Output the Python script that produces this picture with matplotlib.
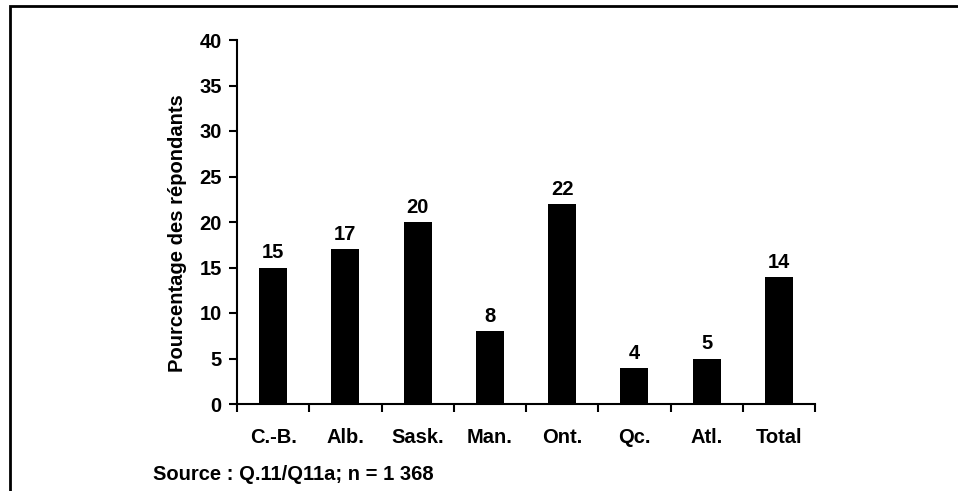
import numpy as np
import matplotlib.pyplot as plt
from matplotlib.patches import Rectangle

plt.rcParams['font.family'] = ['Liberation Sans', 'DejaVu Sans']
plt.rcParams['font.weight'] = 'bold'

regions = ['C.-B.', 'Alb.', 'Sask.', 'Man.', 'Ont.', 'Qc.', 'Atl.', 'Total']
pct = [15, 17, 20, 8, 22, 4, 5, 14]

W, H = 958, 491
fs = 14.5
fig = plt.figure(figsize=(W / 100, H / 100), dpi=100)
ax = fig.add_axes([237 / W, 1 - 404 / H, (815 - 237) / W, (404 - 40) / H])

x = np.arange(len(regions))
bars = ax.bar(x, pct, width=0.39, color='black')
for b, v in zip(bars, pct):
    ax.annotate(str(v), (b.get_x() + b.get_width() / 2, v), xytext=(0, 6.5),
                textcoords='offset points', ha='center', va='baseline',
                fontsize=fs, fontweight='bold')

ax.set_xlim(-0.5, len(regions) - 0.5)
ax.set_ylim(0, 40)
ax.set_yticks(range(0, 41, 5))
ax.set_xticks(x)
ax.set_xticklabels(regions)
ax.set_xticks(np.arange(-0.5, len(regions), 1), minor=True)
ax.tick_params(axis='x', which='major', length=0, pad=17, labelsize=fs)
ax.tick_params(axis='x', which='minor', length=5.5, width=1.5, direction='out')
ax.tick_params(axis='y', length=6, width=1.5, direction='out', pad=5, labelsize=fs)
for s in ['top', 'right']:
    ax.spines[s].set_visible(False)
for s in ['left', 'bottom']:
    ax.spines[s].set_linewidth(1.5)

ax.set_ylabel('Pourcentage des répondants', fontsize=fs, fontweight='bold')
ax.yaxis.set_label_coords(-0.086, 0.47)

fig.text(153 / W, 1 - 480 / H, 'Source : Q.11/Q11a; n = 1 368', fontsize=fs,
         fontweight='bold', va='baseline')

fig.patches.append(Rectangle((10 / W, -0.1), 1.1, 1 - 6 / H + 0.1, transform=fig.transFigure,
                             fill=False, edgecolor='black', linewidth=2, clip_on=False))

fig.savefig('out.png', dpi=100)
